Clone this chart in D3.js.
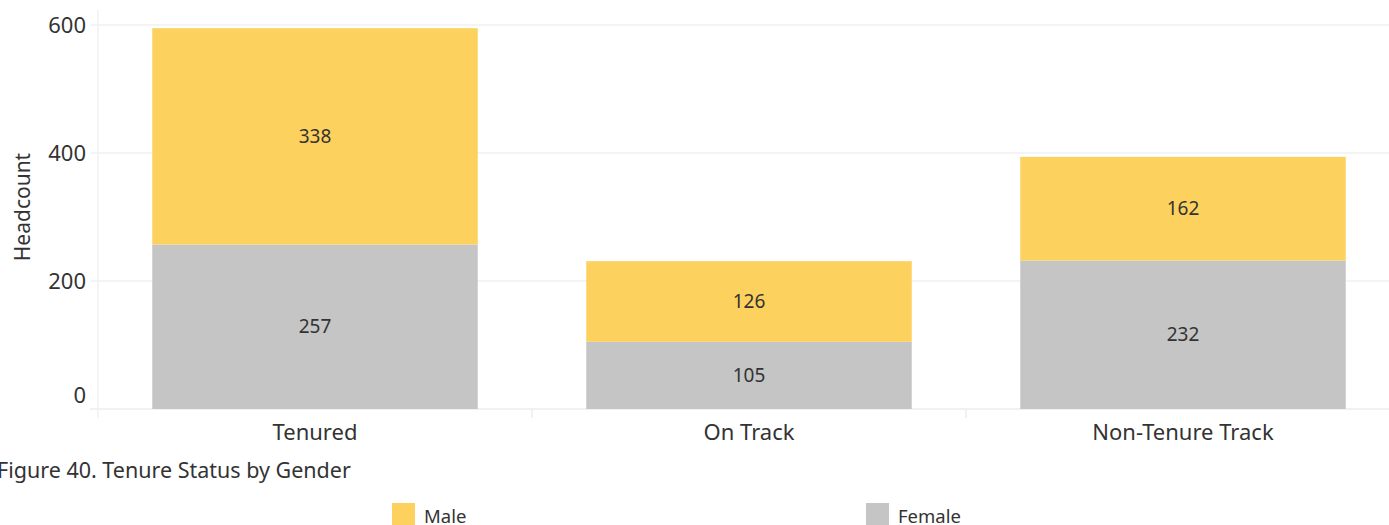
<!DOCTYPE html>
<html>
<head>
<meta charset="utf-8">
<script src="https://cdn.jsdelivr.net/npm/d3@7"></script>
<style>
  html, body { margin: 0; padding: 0; background: #fff; overflow: hidden; }
  svg { display: block; font-family: "Noto Sans", "Open Sans", sans-serif; }
</style>
</head>
<body>
<svg id="chart" width="1389" height="525"></svg>
<script>
// Tenure status headcount split by gender
const categories = ["Tenured", "On Track", "Non-Tenure Track"];
const female = [257, 105, 232];
const male = [338, 126, 162];
const seriesNames = ["Female", "Male"];
const yTicks = [0, 200, 400, 600];
const legendItems = ["Male", "Female"];

const colors = { Male: "#FDD15E", Female: "#C4C5C4" };
const textColor = "#333333";

const svg = d3.select("#chart");

const plot = { left: 98, right: 1400, top: 25, bottom: 409 };

const x = d3.scaleBand()
  .domain(categories)
  .range([plot.left, plot.right])
  .paddingInner(0.25)
  .paddingOuter(0.125);

const y = d3.scaleLinear()
  .domain([0, 600])
  .range([plot.bottom, plot.top]);

// gridlines
svg.append("g").selectAll("line")
  .data(yTicks)
  .join("line")
  .attr("x1", 90).attr("x2", 1389)
  .attr("y1", d => y(d)).attr("y2", d => y(d))
  .attr("stroke", d => d === 0 ? "#ececec" : "#f0f0f0")
  .attr("stroke-width", 1.5);

// vertical axis line
svg.append("line")
  .attr("x1", plot.left).attr("x2", plot.left)
  .attr("y1", 10).attr("y2", 418)
  .attr("stroke", "#f0f0f0").attr("stroke-width", 1.5);

// column divider ticks
const dividers = categories.slice(1).map(c => x(c) - x.step() * x.paddingInner() / 2);
svg.append("g").selectAll("line")
  .data(dividers)
  .join("line")
  .attr("x1", d => d).attr("x2", d => d)
  .attr("y1", plot.bottom).attr("y2", 418)
  .attr("stroke", "#ececec").attr("stroke-width", 1.5);

// stacked data
const rows = categories.map((c, i) => ({ category: c, Female: female[i], Male: male[i] }));
const stack = d3.stack().keys(seriesNames)(rows);

const layers = svg.append("g").selectAll("g")
  .data(stack)
  .join("g")
  .attr("fill", d => colors[d.key]);

layers.selectAll("rect")
  .data(d => d)
  .join("rect")
  .attr("x", d => x(d.data.category))
  .attr("width", x.bandwidth())
  .attr("y", d => y(d[1]))
  .attr("height", d => y(d[0]) - y(d[1]));

// value labels centred in each segment
const labels = svg.append("g")
  .attr("font-size", 19)
  .attr("fill", textColor)
  .attr("text-anchor", "middle");
stack.forEach(layer => {
  layer.forEach(d => {
    labels.append("text")
      .attr("x", x(d.data.category) + x.bandwidth() / 2)
      .attr("y", y((d[0] + d[1]) / 2))
      .attr("dy", "0.35em")
      .text(d[1] - d[0]);
  });
});

// y tick labels
svg.append("g").selectAll("text")
  .data(yTicks)
  .join("text")
  .attr("x", 86)
  .attr("y", d => d === 0 ? y(d) - 14 : y(d))
  .attr("dy", "0.35em")
  .attr("text-anchor", "end")
  .attr("font-size", 22)
  .attr("fill", textColor)
  .text(d => d);

// y axis title
svg.append("text")
  .attr("transform", "translate(30,207) rotate(-90)")
  .attr("text-anchor", "middle")
  .attr("font-size", 21)
  .attr("fill", textColor)
  .text("Headcount");

// x category labels
svg.append("g").selectAll("text")
  .data(categories)
  .join("text")
  .attr("x", d => x(d) + x.bandwidth() / 2)
  .attr("y", 432)
  .attr("dy", "0.35em")
  .attr("text-anchor", "middle")
  .attr("font-size", 22)
  .attr("fill", textColor)
  .text(d => d);

// caption
svg.append("text")
  .attr("x", -3)
  .attr("y", 478)
  .attr("font-size", 21.5)
  .attr("fill", textColor)
  .text("Figure 40. Tenure Status by Gender");

// legend
const legendX = [392, 866];
const legend = svg.append("g").selectAll("g")
  .data(legendItems)
  .join("g")
  .attr("transform", (d, i) => `translate(${legendX[i]},503)`);
legend.append("rect")
  .attr("width", 23).attr("height", 22)
  .attr("fill", d => colors[d]);
legend.append("text")
  .attr("x", 32).attr("y", 14)
  .attr("dy", "0.35em")
  .attr("font-size", 18.5)
  .attr("fill", textColor)
  .text(d => d);
</script>
</body>
</html>
